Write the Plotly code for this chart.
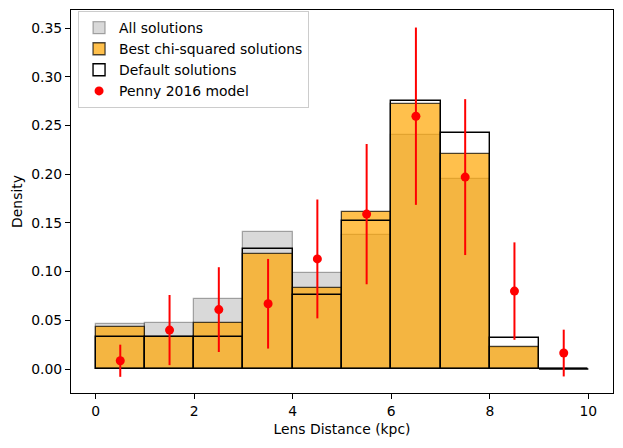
import plotly.graph_objects as go

# Bin edges (kpc) and histogram densities
bin_edges = [0, 1, 2, 3, 4, 5, 6, 7, 8, 9, 10]
all_solutions = [0.046, 0.047, 0.072, 0.141, 0.0985, 0.138, 0.240, 0.195, 0.022, 0.0]
best_chi2 = [0.043, 0.033, 0.047, 0.118, 0.083, 0.161, 0.272, 0.2205, 0.023, 0.0]
default_solutions = [0.033, 0.033, 0.033, 0.123, 0.076, 0.152, 0.275, 0.242, 0.032, 0.0]

# Penny 2016 model
penny_x = [0.5, 1.5, 2.5, 3.5, 4.5, 5.5, 6.5, 7.5, 8.5, 9.5]
penny_y = [0.0085, 0.040, 0.061, 0.067, 0.113, 0.159, 0.2595, 0.197, 0.080, 0.0164]
penny_err = [0.0165, 0.036, 0.0435, 0.046, 0.061, 0.072, 0.091, 0.080, 0.050, 0.024]

centers = [(a + b) / 2 for a, b in zip(bin_edges[:-1], bin_edges[1:])]
widths = [b - a for a, b in zip(bin_edges[:-1], bin_edges[1:])]

FONT = "DejaVu Sans"
FS = 13.9

fig = go.Figure()
fig.add_trace(go.Bar(
    x=centers, y=all_solutions, width=widths, name="All solutions",
    marker=dict(color="rgba(128,128,128,0.3)", line=dict(color="rgba(0,0,0,0.3)", width=1.3)),
))
fig.add_trace(go.Bar(
    x=centers, y=best_chi2, width=widths, name="Best chi-squared solutions",
    marker=dict(color="rgba(255,165,0,0.7)", line=dict(color="rgba(0,0,0,0.7)", width=1.3)),
))
fig.add_trace(go.Bar(
    x=centers, y=default_solutions, width=widths, name="Default solutions",
    marker=dict(color="rgba(0,0,0,0)", line=dict(color="black", width=1.4)),
))
# zero-height default bins still show their base edge
for i, v in enumerate(default_solutions):
    if v == 0:
        fig.add_trace(go.Scatter(
            x=[bin_edges[i], bin_edges[i + 1]], y=[v, v], mode="lines",
            line=dict(color="black", width=1.4), showlegend=False, hoverinfo="skip",
        ))
fig.add_trace(go.Scatter(
    x=penny_x, y=penny_y, mode="markers", name="Penny 2016 model",
    marker=dict(color="red", size=9),
    error_y=dict(type="data", array=penny_err, visible=True, color="red", thickness=2, width=0),
))

axis_common = dict(
    showline=True, linecolor="black", linewidth=1, mirror=True,
    ticks="outside", ticklen=5, tickwidth=1, tickcolor="black",
    showgrid=False, zeroline=False,
    tickfont=dict(family=FONT, size=FS, color="black"),
)
fig.update_xaxes(range=[-0.5, 10.5], tickvals=[0, 2, 4, 6, 8, 10],
                 title=dict(text="Lens Distance (kpc)", font=dict(family=FONT, size=FS, color="black"), standoff=6),
                 **axis_common)
fig.update_yaxes(range=[-0.0246, 0.3685], tickvals=[0, 0.05, 0.1, 0.15, 0.2, 0.25, 0.3, 0.35],
                 tickformat=".2f",
                 title=dict(text="Density", font=dict(family=FONT, size=FS, color="black"), standoff=5),
                 **axis_common)

fig.update_layout(
    width=623, height=448,
    margin=dict(l=71, r=10, t=10, b=55),
    barmode="overlay", bargap=0,
    plot_bgcolor="white", paper_bgcolor="white",
    font=dict(family=FONT, size=FS, color="black"),
    legend=dict(x=0.013, y=0.997, xanchor="left", yanchor="top",
                bgcolor="rgba(255,255,255,0.8)", bordercolor="#cccccc", borderwidth=1,
                font=dict(family=FONT, size=FS, color="black"),
                tracegroupgap=0, itemwidth=30),
    showlegend=True,
)

fig.write_html("out.html")
